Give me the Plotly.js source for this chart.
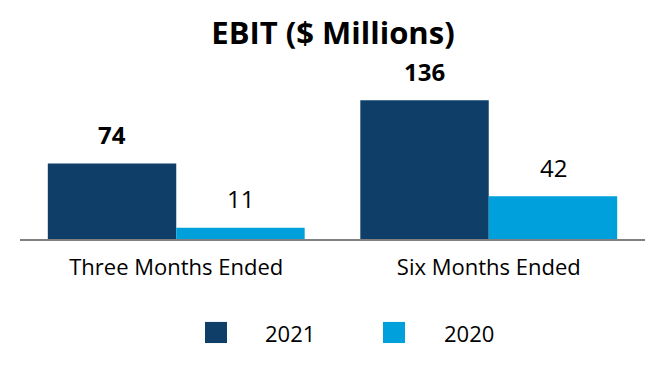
<!DOCTYPE html>
<html>
<head>
<meta charset="utf-8">
<script src="https://cdn.plot.ly/plotly-3.0.1.min.js"></script>
<style>html,body{margin:0;padding:0;background:#fff;}#chart{width:666px;height:380px;}</style>
</head>
<body>
<div id="chart"></div>
<script>
const categories = ["Three Months Ended", "Six Months Ended"];
const seriesNames = ["2021", "2020"];
const values2021 = [74, 136];
const values2020 = [11, 42];
const colors = ["#0f3f68", "#00a0dc"];

const FONT = "Open Sans, sans-serif";
const xIdx = categories.map((c, i) => i);

const traces = [
  {type: "bar", x: xIdx, y: values2021, name: seriesNames[0], marker: {color: colors[0]}, hoverinfo: "none"},
  {type: "bar", x: xIdx, y: values2020, name: seriesNames[1], marker: {color: colors[1]}, hoverinfo: "none"}
];

const off = 0.2056;
const annotations = [];
values2021.forEach((v, i) => annotations.push({x: i - off, y: v, xref: "x", yref: "y", text: String(v), showarrow: false, yanchor: "middle", yshift: 29, font: {family: FONT, size: 24, color: "#000", weight: "bold"}}));
values2020.forEach((v, i) => annotations.push({x: i + off, y: v, xref: "x", yref: "y", text: String(v), showarrow: false, yanchor: "middle", yshift: 29, font: {family: FONT, size: 24, color: "#000"}}));

// legend (custom, larger swatches)
const legX = [[0.296, 0.3312, 0.432], [0.5808, 0.616, 0.7176]];
const shapes = [];
seriesNames.forEach((n, i) => {
  shapes.push({type: "rect", xref: "paper", yref: "paper", x0: legX[i][0], x1: legX[i][1], y0: -0.680, y1: -0.542, fillcolor: colors[i], line: {width: 0}});
  annotations.push({xref: "paper", yref: "paper", x: legX[i][2], y: -0.614, text: n, showarrow: false, xanchor: "center", yanchor: "middle", font: {family: FONT, size: 22, color: "#000"}});
});

const layout = {
  width: 666, height: 380,
  margin: {l: 20, r: 21, t: 86, b: 141},
  paper_bgcolor: "#fff", plot_bgcolor: "#fff",
  title: {text: "<b>EBIT ($ Millions)</b>", x: 0.5, xanchor: "center", y: 0.913, yanchor: "middle", yref: "container", font: {family: FONT, size: 31, color: "#000"}},
  barmode: "group", bargap: 0.178, bargroupgap: 0,
  showlegend: false,
  xaxis: {range: [-0.5, 1.5], tickmode: "array", tickvals: xIdx, ticktext: categories, showline: true, linecolor: "#808080", linewidth: 2, showgrid: false, zeroline: false, ticks: "", ticklabelstandoff: 8, tickfont: {family: FONT, size: 22, color: "#000"}, fixedrange: true},
  yaxis: {range: [0, 150], visible: false, showgrid: false, zeroline: false, fixedrange: true},
  annotations: annotations,
  shapes: shapes
};

Plotly.newPlot("chart", traces, layout, {displayModeBar: false, staticPlot: true});
</script>
</body>
</html>
